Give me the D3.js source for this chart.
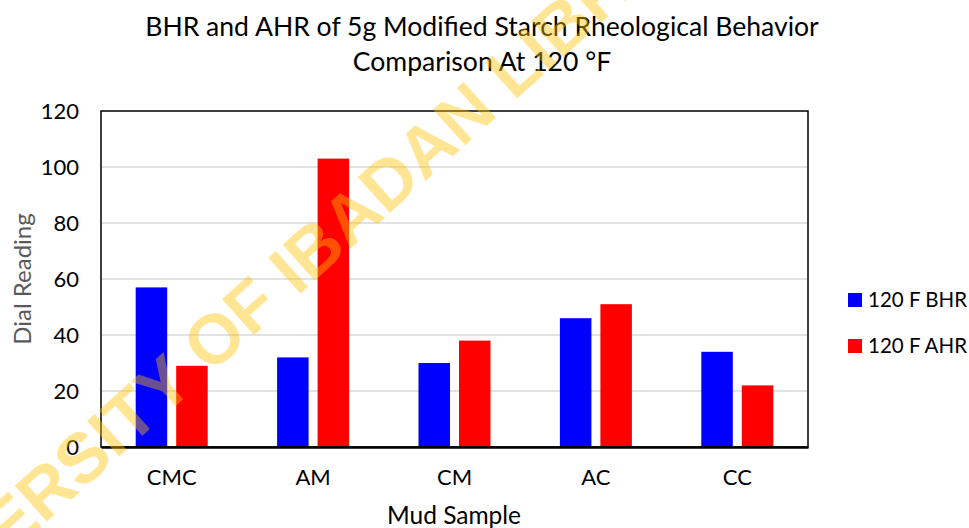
<!DOCTYPE html>
<html>
<head>
<meta charset="utf-8">
<script src="https://cdnjs.cloudflare.com/ajax/libs/d3/7.8.5/d3.min.js"></script>
<style>
  body { margin: 0; background: #fff; }
  svg { display: block; font-family: Lato, "Open Sans", sans-serif; }
</style>
</head>
<body>
<div class="chart"></div>
<script>
var categories = ['CMC', 'AM', 'CM', 'AC', 'CC'];
var seriesNames = ['120 F BHR', '120 F AHR'];
var bhrValues = [57, 32, 30, 46, 34];
var ahrValues = [29, 103, 38, 51, 22];
var yTicks = [0, 20, 40, 60, 80, 100, 120];
var colors = ['#0000ff', '#ff0000'];

var fullWidth = 969;
var fullHeight = 528;
var margin = { top: 111, right: 161, bottom: 81, left: 101 };
var width = fullWidth - margin.left - margin.right;
var height = fullHeight - margin.top - margin.bottom;

var svg = d3.select('.chart')
    .append('svg')
    .attr('width', fullWidth)
    .attr('height', fullHeight);

var g = svg.append('g')
    .attr('transform', 'translate(' + margin.left + ',' + margin.top + ')');

var x0 = d3.scaleBand()
    .domain(categories)
    .range([0, width])
    .padding(0);

var yScale = d3.scaleLinear()
    .domain([0, 120])
    .range([height, 0]);

// gridlines
g.selectAll('.grid')
    .data(yTicks.slice(1, -1))
    .enter().append('line')
    .attr('x1', 0)
    .attr('x2', width)
    .attr('y1', function (d) { return yScale(d); })
    .attr('y2', function (d) { return yScale(d); })
    .attr('stroke', '#d9d9d9')
    .attr('stroke-width', 1.5);

// bars
var rows = categories.map(function (c, i) {
    return { cat: c, values: [bhrValues[i], ahrValues[i]] };
});

var groupWidth = 72;
var x1 = d3.scaleBand()
    .domain([0, 1])
    .range([0, groupWidth])
    .paddingInner(0.222);

var groups = g.selectAll('.group')
    .data(rows)
    .enter().append('g')
    .attr('transform', function (d) {
        return 'translate(' + (x0(d.cat) + x0.bandwidth() / 2 - groupWidth / 2) + ',0)';
    });

groups.selectAll('rect')
    .data(function (d) { return d.values; })
    .enter().append('rect')
    .attr('x', function (d, i) { return x1(i); })
    .attr('width', x1.bandwidth())
    .attr('y', function (d) { return yScale(d); })
    .attr('height', function (d) { return height - yScale(d); })
    .attr('fill', function (d, i) { return colors[i]; });

// plot border
g.append('rect')
    .attr('width', width)
    .attr('height', height)
    .attr('fill', 'none')
    .attr('stroke', '#000')
    .attr('stroke-width', 1.5);

// axes
var yAxis = d3.axisLeft(yScale).tickValues(yTicks).tickSize(0).tickPadding(22);
g.append('g')
    .call(yAxis)
    .call(function (s) { s.select('.domain').remove(); })
    .selectAll('text')
    .attr('font-size', 22)
    .attr('font-family', 'Lato, sans-serif')
    .attr('fill', '#000');

var xAxis = d3.axisBottom(x0).tickSize(0).tickPadding(22);
g.append('g')
    .attr('transform', 'translate(0,' + height + ')')
    .call(xAxis)
    .call(function (s) { s.select('.domain').attr('stroke', '#000').attr('stroke-width', 2.5); })
    .selectAll('text')
    .attr('font-size', 22)
    .attr('font-family', 'Lato, sans-serif')
    .attr('fill', '#000');

// axis titles
svg.append('text')
    .attr('transform', 'translate(31,279) rotate(-90)')
    .attr('text-anchor', 'middle')
    .attr('font-size', 24)
    .attr('fill', '#595959')
    .text('Dial Reading');

svg.append('text')
    .attr('x', 454)
    .attr('y', 524)
    .attr('text-anchor', 'middle')
    .attr('font-size', 24.5)
    .attr('fill', '#000')
    .text('Mud Sample');

// title, sized to the reference width
var titleLines = ['BHR and AHR of 5g Modified Starch Rheological Behavior', 'Comparison At 120 \u00b0F'];
var title = svg.append('text')
    .attr('text-anchor', 'middle')
    .attr('font-size', 26)
    .attr('fill', '#000');
title.selectAll('tspan')
    .data(titleLines)
    .enter().append('tspan')
    .attr('x', 482)
    .attr('y', function (d, i) { return 36 + i * 35; })
    .text(function (d) { return d; });
var w = title.select('tspan').node().getComputedTextLength();
title.attr('font-size', 26 * 674 / w);

// legend
var legend = svg.append('g')
    .attr('transform', 'translate(848,293)');
var items = legend.selectAll('g')
    .data(seriesNames)
    .enter().append('g')
    .attr('transform', function (d, i) { return 'translate(0,' + i * 46 + ')'; });
items.append('rect')
    .attr('width', 14)
    .attr('height', 14)
    .attr('fill', function (d, i) { return colors[i]; });
items.append('text')
    .attr('x', 20)
    .attr('y', 7)
    .attr('dy', '0.36em')
    .attr('font-size', 20.5)
    .attr('fill', '#000')
    .text(function (d) { return d; });

// watermark
svg.append('text')
    .attr('transform', 'translate(297,263) rotate(-42)')
    .attr('x', 0)
    .attr('y', 25)
    .attr('text-anchor', 'middle')
    .attr('font-family', '"Liberation Sans", Arial, sans-serif')
    .attr('font-weight', 'bold')
    .attr('font-size', 70)
    .attr('fill', '#ffc000')
    .attr('fill-opacity', 0.42)
    .text('UNIVERSITY OF IBADAN LIBRARY');
</script>
</body>
</html>
